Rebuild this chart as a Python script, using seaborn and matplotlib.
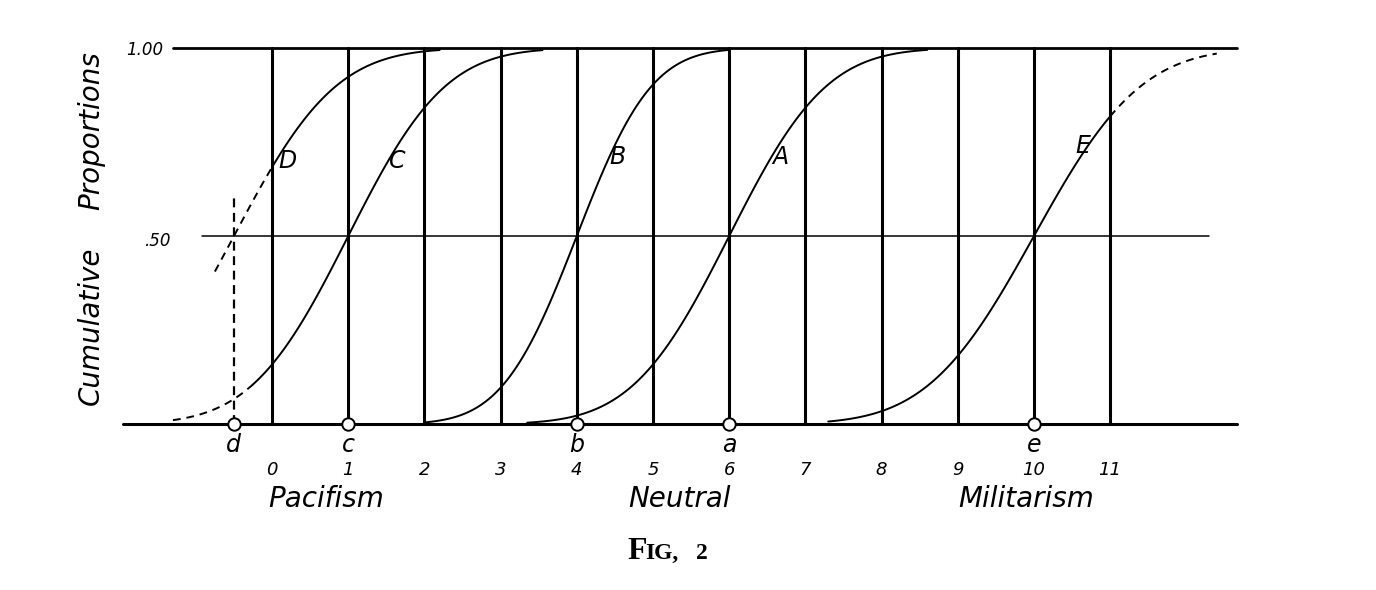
import math
import numpy as np
import pandas as pd
import matplotlib
matplotlib.use("Agg")
import matplotlib.pyplot as plt
import seaborn as sns

# statements, scale values (medians) and dispersions
statements = ["A", "B", "C", "D", "E"]
medians = [6.0, 4.0, 1.0, -0.5, 10.0]
sigmas = [1.0, 0.77, 1.0, 1.05, 1.1]
median_letters = ["a", "b", "c", "d", "e"]
# drawn range of every ogive; dashed where it is extrapolated
solid_from = [3.35, 2.0, -0.25, 0.0, 7.3]
solid_to = [8.6, 6.0, 3.55, 2.2, 11.0]
dashed_from = [None, None, -1.3, -0.75, 11.0]
dashed_to = [None, None, -0.25, 0.0, 12.4]

scale_ticks = list(range(0, 12))
y_ticks = [0.50, 1.00]
y_tick_labels = [".50", "1.00"]
region_labels = ["Pacifism", "Neutral", "Militarism"]
region_pos = [0.71, 5.35, 9.9]


def ogive(s, mu, sd):
    return 0.5 * (1 + math.erf((s - mu) / (sd * math.sqrt(2))))


rows = []
for i, name in enumerate(statements):
    parts = [("solid", solid_from[i], solid_to[i])]
    if dashed_from[i] is not None:
        parts.append(("dashed", dashed_from[i], dashed_to[i]))
    for kind, lo, hi in parts:
        for s in np.linspace(lo, hi, 120):
            rows.append({"s": s, "p": ogive(s, medians[i], sigmas[i]),
                         "seg": name + kind, "kind": kind})
curves = pd.DataFrame(rows)

sns.set_style("white")
plt.rcParams["font.family"] = ["DejaVu Sans"]

fig = plt.figure(figsize=(13.76, 5.9), dpi=100)
ax = fig.add_axes([0, 0, 1, 1])
ax.set_xlim(-3.57, 14.49)
ax.set_ylim(-0.441, 1.128)
ax.axis("off")

# frame: base, top and the .50 line
ax.plot([-1.96, 12.66], [0, 0], color="black", lw=2.2)
ax.plot([-1.3, 12.66], [1, 1], color="black", lw=2.0)
ax.plot([-0.92, 12.3], [0.5, 0.5], color="black", lw=1.1)
for t in scale_ticks:
    ax.plot([t, t], [0, 1], color="black", lw=2.2)

sns.lineplot(data=curves, x="s", y="p", units="seg", estimator=None,
             style="kind", dashes={"solid": "", "dashed": (4, 3)},
             color="black", lw=1.4, legend=False, ax=ax, sort=False)

# dashed vertical at the median of D
d_idx = statements.index("D")
ax.plot([medians[d_idx], medians[d_idx]], [0, 0.61], color="black",
        lw=1.6, ls=(0, (4, 2.5)))

# medians on the base line
ax.scatter(medians, [0] * len(medians), s=80, facecolor="white",
           edgecolor="black", linewidth=1.4, zorder=5)

txt = dict(color="black", style="italic", ha="center", va="center")
for m, lab in zip(medians, median_letters):
    ax.text(m, -0.056, lab, fontsize=17, **txt)
for t in scale_ticks:
    ax.text(t, -0.122, str(t), fontsize=13, **txt)
for x, lab in zip(region_pos, region_labels):
    ax.text(x, -0.198, lab, fontsize=20, **txt)

label_pos = {"D": (0.2, 0.70), "C": (1.65, 0.70), "B": (4.54, 0.71),
             "A": (6.67, 0.71), "E": (10.64, 0.74)}
for name in statements:
    x, y = label_pos[name]
    ax.text(x, y, name, fontsize=17, **txt)

ax.text(-1.67, 0.995, y_tick_labels[1], fontsize=12, **txt)
ax.text(-1.51, 0.487, y_tick_labels[0], fontsize=12, **txt)

ax.text(-2.375, 0.263, "Cumulative", fontsize=20, rotation=90, **txt)
ax.text(-2.375, 0.78, "Proportions", fontsize=20, rotation=90, **txt)

serif = dict(color="black", ha="left", va="baseline",
             family="Liberation Serif", weight="bold")
ax.text(4.66, -0.359, "F", fontsize=23, **serif)
ax.text(4.9, -0.359, "IG,", fontsize=17, **serif)
ax.text(5.56, -0.359, "2", fontsize=17, **serif)

fig.savefig("out.png", dpi=100, facecolor="white")
